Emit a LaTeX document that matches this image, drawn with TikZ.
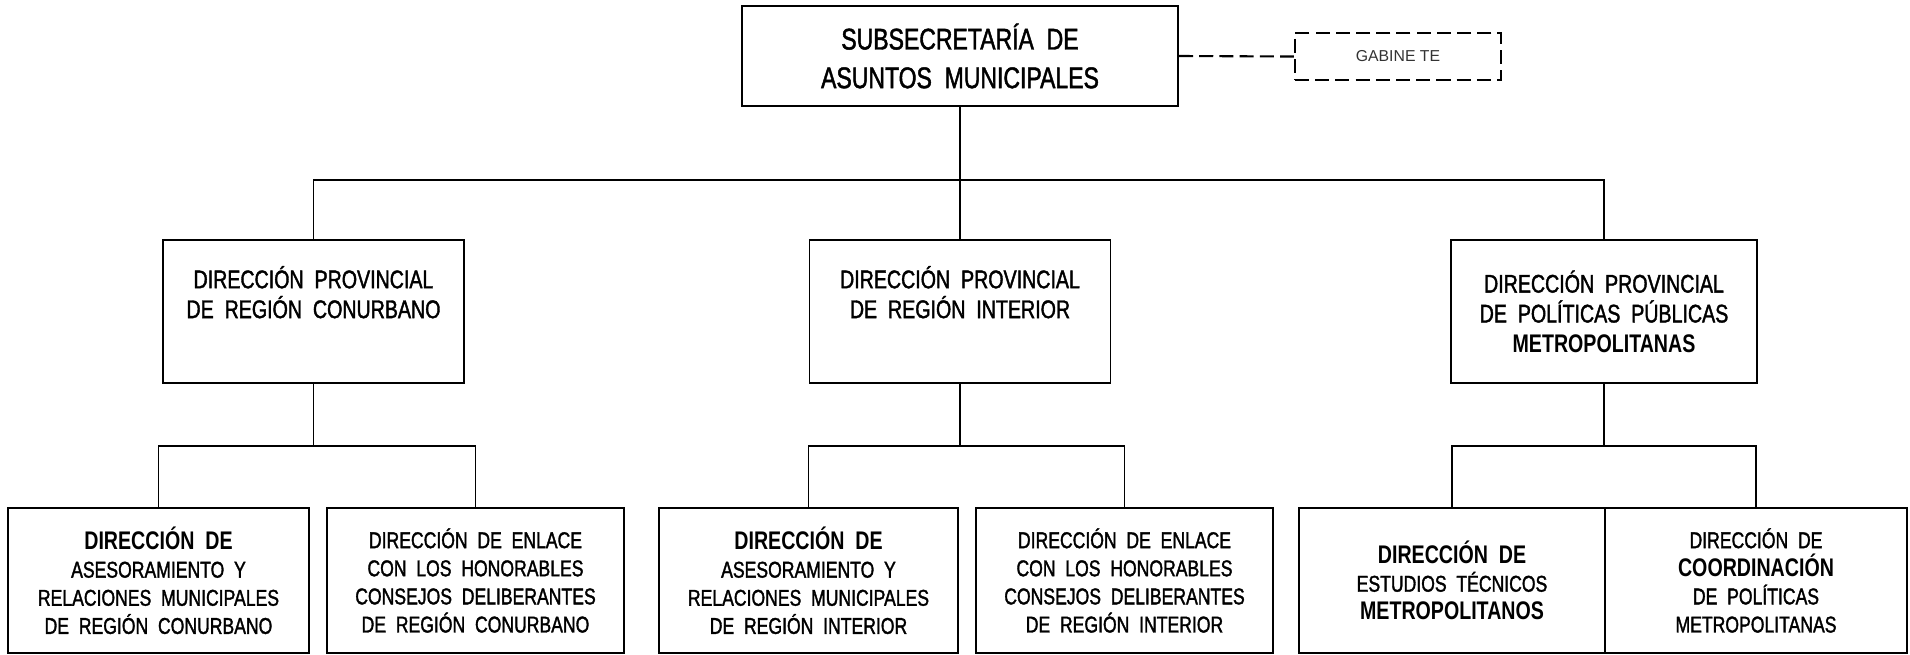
\documentclass[tikz,border=0pt]{standalone}
\usepackage{fontspec}
\setmainfont[FakeStretch=0.77,WordSpace=2,UprightFeatures={FakeBold=1.5}]{Liberation Sans}
\newfontfamily\gabfont{Liberation Sans}
\newcommand\negr[1]{{\bfseries\fontsize{14.5}{16}\selectfont #1}}
\usetikzlibrary{calc}

\begin{document}
\begin{tikzpicture}[x=0.2mm,y=-0.2mm,
	caja/.style={draw, line width=1.1pt, align=center, inner sep=0pt},
	jefe/.style={caja, minimum width=87.2mm, minimum height=20mm, font=\fontsize{17}{22}\selectfont},
	prov/.style={caja, minimum width=60.2mm, minimum height=28.6mm, font=\fontsize{14.5}{17}\selectfont},
	dir/.style={caja, minimum height=29mm, font=\fontsize{13}{16}\selectfont},
	linea/.style={line width=0.8pt},
	guion/.style={line width=1.2pt, dash pattern=on 8pt off 3.5pt}]
	\useasboundingbox (0,0) rectangle (1910,654);
	\node[jefe] (sub) at (960,56) {SUBSECRETARÍA DE\\ASUNTOS MUNICIPALES};
	\node[caja, guion, minimum width=41.2mm, minimum height=9.4mm, font=\gabfont\fontsize{9}{11}\selectfont, text=black!80] (gab) at (1398,56.5) {GABINE TE};
	\node[prov] (con) at (313.5,311.5) {DIRECCIÓN PROVINCIAL\\DE REGIÓN CONURBANO\\\strut};
	\node[prov] (int) at (960,311.5) {DIRECCIÓN PROVINCIAL\\DE REGIÓN INTERIOR\\\strut};
	\node[prov, minimum width=61.2mm] (met) at (1604,311.5) {DIRECCIÓN PROVINCIAL\\DE POLÍTICAS PÚBLICAS\\\textbf{METROPOLITANAS}};
	\node[dir, minimum width=60.2mm] (asecon) at (158.5,580.5) {\negr{DIRECCIÓN DE}\\ASESORAMIENTO Y\\RELACIONES MUNICIPALES\\DE REGIÓN CONURBANO};
	\node[dir, minimum width=59.4mm] (enlcon) at (475.5,580.5) {DIRECCIÓN DE ENLACE\\CON LOS HONORABLES\\CONSEJOS DELIBERANTES\\DE REGIÓN CONURBANO};
	\node[dir, minimum width=59.8mm] (aseint) at (808.5,580.5) {\negr{DIRECCIÓN DE}\\ASESORAMIENTO Y\\RELACIONES MUNICIPALES\\DE REGIÓN INTERIOR};
	\node[dir, minimum width=59.4mm] (enlint) at (1124.5,580.5) {DIRECCIÓN DE ENLACE\\CON LOS HONORABLES\\CONSEJOS DELIBERANTES\\DE REGIÓN INTERIOR};
	\node[dir, minimum width=61.2mm] (estmet) at (1452,580.5) {\negr{DIRECCIÓN DE}\\ESTUDIOS TÉCNICOS\\\negr{METROPOLITANOS}};
	\node[dir, minimum width=60.4mm] (coomet) at (1756,580.5) {DIRECCIÓN DE\\\negr{COORDINACIÓN}\\DE POLÍTICAS\\METROPOLITANAS};
	\coordinate (barra) at (0,180);
	\coordinate (barraA) at (0,446);
	\draw[guion] (sub.east) -- (gab.west);
	\draw[linea] (sub.south) -- (int.north);
	\draw[linea] (con.north) -- (con.north |- barra) -- (met.north |- barra) -- (met.north);
	\draw[linea] (con.south) -- (con.south |- barraA);
	\draw[linea] (int.south) -- (int.south |- barraA);
	\draw[linea] (met.south) -- (met.south |- barraA);
	\draw[linea] (asecon.north) -- (asecon.north |- barraA) -- (enlcon.north |- barraA) -- (enlcon.north);
	\draw[linea] (aseint.north) -- (aseint.north |- barraA) -- (enlint.north |- barraA) -- (enlint.north);
	\draw[linea] (estmet.north) -- (estmet.north |- barraA) -- (coomet.north |- barraA) -- (coomet.north);
\end{tikzpicture}
\end{document}
